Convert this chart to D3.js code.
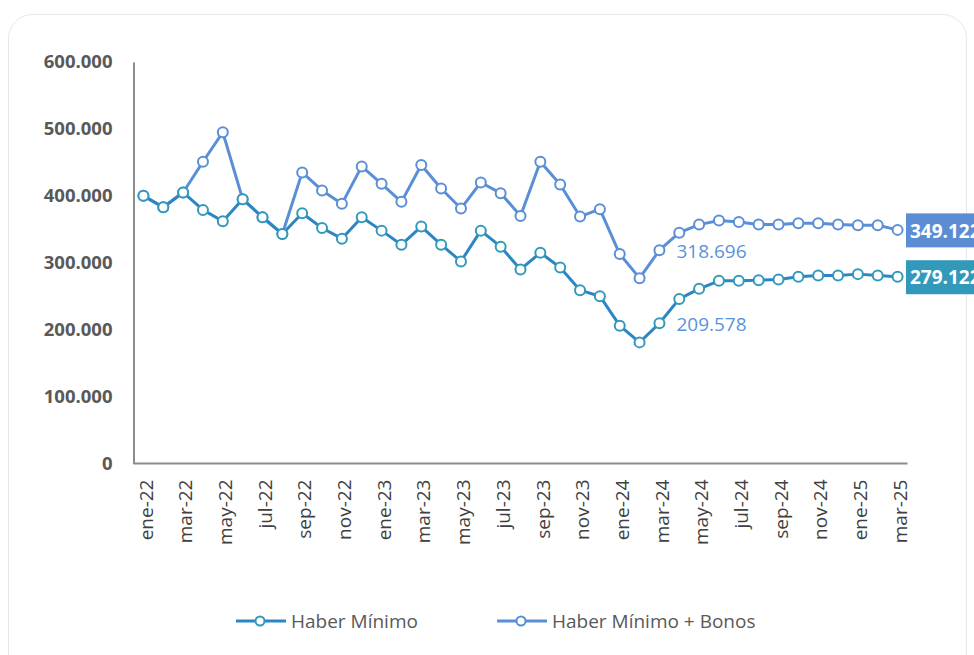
<!DOCTYPE html>
<html>
<head>
<meta charset="utf-8">
<script src="https://cdn.jsdelivr.net/npm/d3@7"></script>
<style>
  html, body { margin: 0; padding: 0; background: #fff; overflow: hidden; }
  svg { display: block; font-family: "Open Sans", sans-serif; }
</style>
</head>
<body>
<script>
// meses (ene-22 .. mar-25)
const months = ["ene-22","feb-22","mar-22","abr-22","may-22","jun-22","jul-22","ago-22","sep-22","oct-22","nov-22","dic-22",
    "ene-23","feb-23","mar-23","abr-23","may-23","jun-23","jul-23","ago-23","sep-23","oct-23","nov-23","dic-23",
    "ene-24","feb-24","mar-24","abr-24","may-24","jun-24","jul-24","ago-24","sep-24","oct-24","nov-24","dic-24",
    "ene-25","feb-25","mar-25"];

const haberMinimo = [400000, 383000, 405000, 379000, 362000, 395000, 368000, 343000, 374000, 352000,
    336000, 368000, 348000, 327000, 354000, 327000, 302000, 348000, 324000, 290000,
    315000, 293000, 259000, 250000, 206000, 181000, 209578, 246000, 261000, 273000,
    273000, 274000, 275000, 279000, 281000, 281000, 283000, 281000, 279122];

const haberBonos = [400000, 383000, 405000, 451000, 495000, 395000, 368000, 343000, 435000, 408000,
    388000, 444000, 418000, 391000, 446000, 411000, 381000, 420000, 404000, 370000,
    451000, 417000, 369000, 380000, 313000, 277000, 318696, 345000, 357000, 363000,
    361000, 357000, 357000, 359000, 359000, 357000, 356000, 356000, 349122];

const yTicks = [0, 100000, 200000, 300000, 400000, 500000, 600000];
const seriesNames = ["Haber Mínimo", "Haber Mínimo + Bonos"];
// etiquetas de datos (índice del mes)
const labelIndex = 26;

const width = 974, height = 655;
const margin = { left: 133.5, right: 907.5, top: 62, bottom: 463.5 };
const FONT = "'Open Sans', sans-serif";

const locale = d3.formatLocale({ decimal: ",", thousands: ".", grouping: [3], currency: ["$", ""] });
const fmt = locale.format(",.0f");

const series = [
    { name: seriesNames[0], values: haberMinimo, line: "#2b86c3", marker: "#3399bb", box: "#3399bb" },
    { name: seriesNames[1], values: haberBonos, line: "#5a8fd6", marker: "#5a8fd6", box: "#5b8dd5" }
];

const svg = d3.select("body").append("svg")
    .attr("width", width)
    .attr("height", height);

// marco redondeado
svg.append("rect")
    .attr("x", 8.5).attr("y", 14.5)
    .attr("width", 958).attr("height", 700)
    .attr("rx", 24).attr("ry", 24)
    .style("fill", "none")
    .style("stroke", "#e8e8e8")
    .style("stroke-width", "1px");

const x = d3.scalePoint()
    .domain(months)
    .range([margin.left, margin.right])
    .padding(0.5);

const y = d3.scaleLinear()
    .domain([0, 600000])
    .range([margin.bottom, margin.top]);

// eje Y
const yAxis = svg.append("g")
    .attr("transform", "translate(" + margin.left + ",0)")
    .call(d3.axisLeft(y).tickValues(yTicks).tickSize(0).tickPadding(21)
        .tickFormat(d => d === 0 ? "0" : fmt(d)));
yAxis.attr("font-family", null);
yAxis.select(".domain").style("stroke", "#8c8c8c").style("stroke-width", "2px");
yAxis.selectAll("text")
    .style("font-family", FONT)
    .style("font-size", "18.5px")
    .style("font-weight", "bold")
    .style("fill", "#595959");

// eje X
const xAxis = svg.append("g")
    .attr("transform", "translate(0," + margin.bottom + ")")
    .call(d3.axisBottom(x).tickValues(months.filter((m, i) => i % 2 === 0)).tickSize(0).tickPadding(0));
xAxis.attr("font-family", null);
xAxis.select(".domain").style("stroke", "#8c8c8c").style("stroke-width", "2px")
    .attr("d", "M" + margin.left + ",0H" + margin.right);
xAxis.selectAll("text")
    .attr("transform", "rotate(-90)")
    .attr("text-anchor", "end")
    .attr("x", -16)
    .attr("y", 2)
    .attr("dy", "0.35em")
    .style("font-family", FONT)
    .style("font-size", "19px")
    .style("fill", "#404040");

const line = d3.line()
    .x((d, i) => x(months[i]))
    .y(d => y(d));

// primero la serie con bonos, luego haber mínimo encima
[series[1], series[0]].forEach(s => {
    svg.append("path")
        .datum(s.values)
        .attr("d", line)
        .style("fill", "none")
        .style("stroke", s.line)
        .style("stroke-width", "3px")
        .style("stroke-linejoin", "round");
});
[series[1], series[0]].forEach(s => {
    svg.append("g").selectAll("circle")
        .data(s.values)
        .enter().append("circle")
        .attr("cx", (d, i) => x(months[i]))
        .attr("cy", d => y(d))
        .attr("r", 5)
        .style("fill", "#fff")
        .style("stroke", s.marker)
        .style("stroke-width", "2px");
});

// etiquetas de datos (mar-24)
series.forEach(s => {
    const v = s.values[labelIndex];
    svg.append("text")
        .attr("x", x(months[labelIndex]) + 17)
        .attr("y", y(v) + 1)
        .attr("dy", "0.35em")
        .style("font-size", "19px")
        .style("fill", "#5b93da")
        .text(fmt(v));
});

// etiquetas finales
series.forEach(s => {
    const v = s.values[s.values.length - 1];
    const cy = y(v);
    svg.append("rect")
        .attr("x", 906).attr("y", cy - 16.5)
        .attr("width", 90).attr("height", 34)
        .style("fill", s.box);
    svg.append("text")
        .attr("x", 910).attr("y", cy + 1)
        .attr("dy", "0.35em")
        .style("font-size", "19px")
        .style("font-weight", "bold")
        .style("fill", "#fff")
        .text(fmt(v));
});

// leyenda
const legend = svg.append("g").attr("transform", "translate(0,621)");
const legendX = [236, 497];
series.forEach((s, i) => {
    const g = legend.append("g").attr("transform", "translate(" + legendX[i] + ",0)");
    g.append("line")
        .attr("x1", 0).attr("x2", 50)
        .attr("y1", 0).attr("y2", 0)
        .style("stroke", s.line)
        .style("stroke-width", "3px");
    g.append("circle")
        .attr("cx", 24).attr("cy", 0).attr("r", 4.5)
        .style("fill", "#fff")
        .style("stroke", s.marker)
        .style("stroke-width", "2px");
    g.append("text")
        .attr("x", 55).attr("y", 0)
        .attr("dy", "0.35em")
        .style("font-size", "19px")
        .style("fill", "#595959")
        .text(s.name);
});
</script>
</body>
</html>
